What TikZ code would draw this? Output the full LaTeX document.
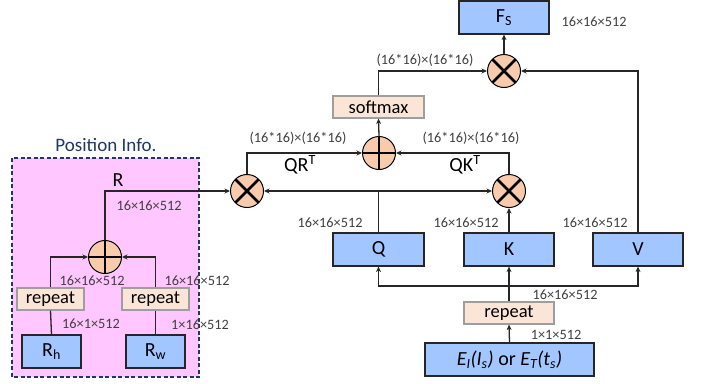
\documentclass[tikz,border=0pt]{standalone}
\usepackage{fontspec}
\setmainfont{Carlito}
\usetikzlibrary{arrows.meta}
\definecolor{boxblue}{HTML}{A2C6FF}
\definecolor{peach}{HTML}{F8CBAD}
\definecolor{lightpeach}{HTML}{FBE5D6}
\definecolor{pinkbg}{HTML}{FFC6FF}
\definecolor{navy}{HTML}{1F3864}
\definecolor{lblgray}{HTML}{404040}
\definecolor{linec}{HTML}{262626}
\tikzset{
  bluebox/.style={draw=linec, line width=1.2pt, fill=boxblue, inner sep=0pt, minimum height=33pt, font=\fontsize{20}{21}\selectfont},
  opbox/.style={draw=black!38, line width=1.1pt, fill=lightpeach, inner sep=0pt, minimum height=22pt, font=\fontsize{18.5}{19}\selectfont},
  mulop/.style={circle, draw=black, line width=1pt, fill=peach, minimum size=33pt, inner sep=0pt,
    path picture={\draw[line width=2.5pt] (path picture bounding box.north west) -- (path picture bounding box.south east)
      (path picture bounding box.north east) -- (path picture bounding box.south west);}},
  addop/.style={circle, draw=black, line width=1pt, fill=peach, minimum size=33pt, inner sep=0pt,
    path picture={\draw[line width=2.5pt] (path picture bounding box.north) -- (path picture bounding box.south)
      (path picture bounding box.west) -- (path picture bounding box.east);}},
  dim/.style={text=lblgray, inner sep=0pt, font=\fontsize{14.3}{15}\selectfont},
  big/.style={inner sep=0pt, font=\fontsize{20}{21}\selectfont},
  conn/.style={draw=linec, line width=1.3pt},
  arr/.style={conn, -{Stealth[length=5.5pt,width=5pt]}}
}
\begin{document}
\begin{tikzpicture}[x=1pt,y=-1pt]
\useasboundingbox (0,0) rectangle (708,383);
% Position info region
\draw[draw=navy, fill=pinkbg, line width=1.3pt, dash pattern=on 4pt off 2.5pt] (12,158) rectangle (199,377);
\node[text=navy, inner sep=0pt, font=\fontsize{19}{20}\selectfont] (ptitle) at (106,145) {Position Info.};

% nodes
\node[bluebox, minimum width=90pt] (Fs) at (504,17.5) {F\textsubscript{S}};
\node[mulop] (mulT) at (504,71) {};
\node[opbox, minimum width=91pt] (soft) at (378.5,107) {softmax};
\node[addop] (plus) at (379,153) {};
\node[mulop] (mulL) at (247,191) {};
\node[mulop] (mulR) at (509,191) {};
\node[bluebox, minimum width=91pt] (Q) at (378.5,249.5) {Q};
\node[bluebox, minimum width=90pt] (K) at (509,249.5) {K};
\node[bluebox, minimum width=90pt] (V) at (638,249.5) {V};
\node[opbox, minimum width=90pt] (repK) at (509,313) {repeat};
\node[bluebox, minimum width=169pt] (E) at (509.5,359.5) {\itshape E\textsubscript{I}(I\textsubscript{s})\upshape{} or \itshape E\textsubscript{T}(t\textsubscript{s})};
\coordinate (split) at (509,286);

\node[addop] (plusP) at (105,257) {};
\node[opbox, minimum width=67pt] (repL) at (50.5,299) {repeat};
\node[opbox, minimum width=67pt] (repR) at (155.5,299) {repeat};
\node[bluebox, minimum width=59pt] (Rh) at (51.5,351.5) {R\textsubscript{h}};
\node[bluebox, minimum width=59pt] (Rw) at (155.5,351.5) {R\textsubscript{w}};

% connectors
\draw[conn] (Rh.north) -- (repL.south);
\draw[conn] (Rw.north) -- (repR.south);
\draw[arr] (repL.north) |- (plusP.west);
\draw[arr] (repR.north) |- (plusP.east);
\draw[arr] (plusP.north) |- (mulL.west);
\draw[arr] (Q.north) |- (mulL.east);
\draw[arr] (Q.north) |- (mulR.west);
\draw[arr] (K.north) -- (mulR.south);
\draw[arr] (mulL.north) |- (plus.west);
\draw[arr] (mulR.north) |- (plus.east);
\draw[arr] (plus.north) -- (soft.south);
\draw[arr] (soft.north) |- (mulT.west);
\draw[arr] (V.north) |- (mulT.east);
\draw[arr] (mulT.north) -- (Fs.south);
\draw[arr] (E.north) -- (repK.south);
\draw[arr] (repK.north) -- (K.south);
\draw[arr] (split) -| (Q.south);
\draw[arr] (split) -| (V.south);

% labels
\node[dim] (lFs) at (594,22) {16×16×512};
\node[dim] (lTop) at (425,60) {(16*16)×(16*16)};
\node[dim] (lQR) at (298,138) {(16*16)×(16*16)};
\node[dim] (lQK) at (471,138) {(16*16)×(16*16)};
\node[big] (tQR) at (300,165) {QR\textsuperscript{T}};
\node[big] (tQK) at (465,165) {QK\textsuperscript{T}};
\node[big] (tR) at (118,180) {R};
\node[dim] (lR) at (149,206) {16×16×512};
\node[dim] (lQ) at (330,223) {16×16×512};
\node[dim] (lK) at (466,223) {16×16×512};
\node[dim] (lV) at (595,223) {16×16×512};
\node[dim] (lrep) at (565,295) {16×16×512};
\node[dim] (lE) at (556,335) {1×1×512};
\node[dim] (lpl) at (92,281) {16×16×512};
\node[dim] (lpr) at (197,281) {16×16×512};
\node[dim] (lrh) at (91,324) {16×1×512};
\node[dim] (lrw) at (200,325) {1×16×512};
\end{tikzpicture}
\end{document}
